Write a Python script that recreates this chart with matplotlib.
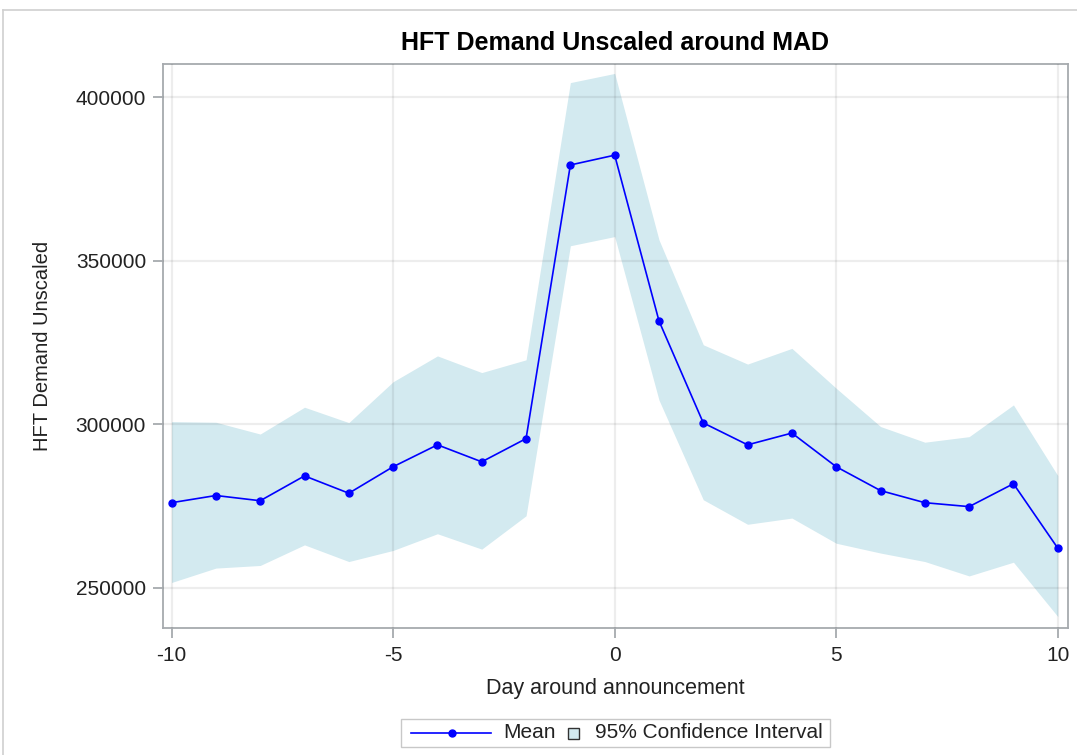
import matplotlib.pyplot as plt
from matplotlib.lines import Line2D
from matplotlib.patches import Rectangle
import matplotlib.ticker as mticker

plt.rcParams["font.family"] = ["Liberation Sans", "DejaVu Sans"]
plt.rcParams["axes.unicode_minus"] = False

# -----------------------------
# Data
# -----------------------------
days = [-10, -9, -8, -7, -6, -5, -4, -3, -2, -1, 0, 1, 2, 3, 4, 5, 6, 7, 8, 9, 10]

mean_demand = [276000, 278200, 276600, 284200, 278900, 287000, 293700, 288500, 295600,
               379300, 382300, 331600, 300400, 293700, 297300, 287000, 279700, 276000,
               274800, 281800, 262100]

ci_upper = [300800, 300600, 297000, 305200, 300500, 313000, 320900, 315800, 319700,
            404500, 407300, 356400, 324300, 318400, 323200, 311000, 299300, 294500,
            296200, 305900, 284300]

ci_lower = [251600, 256000, 256800, 263100, 258000, 261400, 266500, 261800, 272000,
            354600, 357400, 307400, 276900, 269400, 271300, 263600, 260600, 258000,
            253600, 257800, 241200]

legend_labels = ["Mean", "95% Confidence Interval"]

band_color = "#d3eaf0"
line_color = "#0000ff"
frame_color = "#a6aaae"
text_color = "#222222"

W, H = 1077, 755


def fx(px):
    return px / W


def fy(py):
    return 1 - py / H


# -----------------------------
# Figure
# -----------------------------
fig = plt.figure(figsize=(W / 100, H / 100), dpi=100)
ax = fig.add_axes([0.1511, 0.1682, 0.8405, 0.7470])

ax.fill_between(days, ci_lower, ci_upper, color=band_color, linewidth=0, zorder=1)
ax.plot(days, mean_demand, color=line_color, linewidth=1.2, marker="o",
        markersize=5, zorder=3)

ax.set_xlim(-10.2, 10.23)
ax.set_ylim(237670, 410180)
ax.set_xticks([-10, -5, 0, 5, 10])
ax.set_yticks([250000, 300000, 350000, 400000])
ax.yaxis.set_major_formatter(mticker.FuncFormatter(lambda v, p: f"{int(v)}"))

ax.set_axisbelow(False)
ax.grid(True, color="black", alpha=0.07, linewidth=1.6)

for s in ax.spines.values():
    s.set_color(frame_color)
    s.set_linewidth(1.3)
ax.tick_params(axis="both", colors=frame_color, labelcolor=text_color,
               labelsize=15, length=7, width=1.3)
ax.tick_params(axis="x", pad=6)
ax.tick_params(axis="y", pad=5)

ax.set_title("HFT Demand Unscaled around MAD", fontsize=18, fontweight="bold",
             pad=10)
ax.set_xlabel("Day around announcement", fontsize=15.5, color=text_color, labelpad=9)
ax.set_ylabel("HFT Demand Unscaled", fontsize=14.5, color=text_color, labelpad=17)

# -----------------------------
# Legend below the plot (drawn by hand to keep the square swatch compact)
# -----------------------------
ly = fy(733)
fig.add_artist(Rectangle((fx(401), fy(747)), fx(830) - fx(401), fy(719) - fy(747),
                         transform=fig.transFigure, facecolor="white",
                         edgecolor="#c8c8c8", linewidth=1.0))
fig.add_artist(Line2D([fx(411), fx(491)], [ly, ly], transform=fig.transFigure,
                      color=line_color, linewidth=1.2))
fig.add_artist(Line2D([fx(452)], [ly], transform=fig.transFigure, color=line_color,
                      marker="o", markersize=5))
fig.text(fx(503), ly, legend_labels[0], fontsize=15, color=text_color,
         ha="left", va="center")
sq = 11
fig.add_artist(Rectangle((fx(568), fy(733 + sq / 2)), fx(sq), fy(0) - fy(sq),
                         transform=fig.transFigure, facecolor=band_color,
                         edgecolor="#333333", linewidth=1.0))
fig.text(fx(595), ly, legend_labels[1], fontsize=15, color=text_color,
         ha="left", va="center")

# outer border of the graph area
fig.add_artist(Line2D([fx(3), 1.0], [fy(10), fy(10)],
                      transform=fig.transFigure, color="#d0d0d0", linewidth=1.2))
fig.add_artist(Line2D([fx(3), fx(3)], [0.0, fy(10)],
                      transform=fig.transFigure, color="#d0d0d0", linewidth=1.2))

fig.savefig("out.png", dpi=100)
